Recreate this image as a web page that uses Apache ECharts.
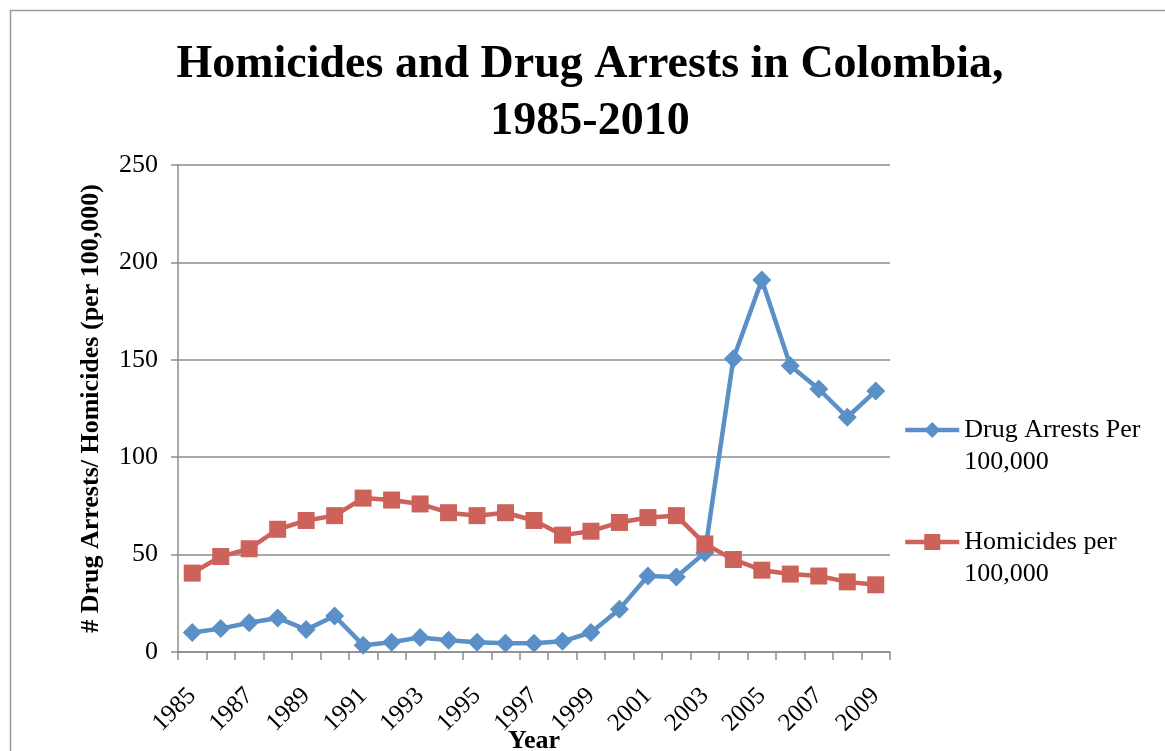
<!DOCTYPE html>
<html>
<head>
<meta charset="utf-8">
<script src="https://cdn.jsdelivr.net/npm/echarts@6/dist/echarts.min.js"></script>
<style>
html,body{margin:0;padding:0;background:#fff;}
#chart{width:1165px;height:751px;}
</style>
</head>
<body>
<div id="chart"></div>
<script>
const years = ['1985','1986','1987','1988','1989','1990','1991','1992','1993','1994','1995','1996','1997','1998','1999','2000','2001','2002','2003','2004','2005','2006','2007','2008','2009'];
const drugArrests = [10,12,15,17.5,11.5,18.5,3.5,5,7.5,6,5,4.5,4.5,5.5,10,22,39,38.5,51,150.5,191,147,135,120.5,134];
const homicides = [40.5,49,53,63,67.5,70,79,78,76,71.5,70,71.5,67.5,60,62,66.5,69,70,55.5,47.5,42,40,39,36,34.5];
const yTicks = [0,50,100,150,200,250];

const serif = '"Liberation Serif", "Times New Roman", serif';
const blue = '#5B8FC8';
const red = '#CC625A';

const chart = echarts.init(document.getElementById('chart'));
chart.setOption({
  backgroundColor: '#fff',
  animation: false,
  title: {
    text: 'Homicides and Drug Arrests in Colombia,\n1985-2010',
    left: 585, top: 32, textAlign: 'center',
    textStyle: {fontFamily: serif, fontWeight: 'bold', fontSize: 46, lineHeight: 57, color: '#000'}
  },
  graphic: [{
    type: 'rect', shape: {x: 10.5, y: 10.5, width: 1300, height: 900},
    style: {fill: 'none', stroke: '#9a9a9a', lineWidth: 1.5}, silent: true
  }],
  legend: {
    orient: 'vertical', left: 903, top: 382, padding: 0,
    itemWidth: 54, itemHeight: 20, itemGap: 16,
    lineStyle: {width: 4.5},
    formatter: name => ' \n' + name,
    textStyle: {fontFamily: serif, fontSize: 26, lineHeight: 32, color: '#000'},
    data: [
      {name: 'Drug Arrests Per\n100,000'},
      {name: 'Homicides per\n100,000'}
    ]
  },
  grid: {left: 178, right: 275, top: 165, bottom: 99, containLabel: false, outerBoundsMode: 'none'},
  xAxis: {
    type: 'category', data: years, boundaryGap: true,
    name: 'Year', nameLocation: 'middle', nameGap: 76, nameMoveOverlap: false,
    nameTextStyle: {fontFamily: serif, fontWeight: 'bold', fontSize: 26, color: '#000'},
    axisLine: {lineStyle: {color: '#8c8c8c', width: 1.5}},
    axisTick: {show: true, length: 8, alignWithLabel: false, interval: 0, lineStyle: {color: '#8c8c8c', width: 1.5}},
    axisLabel: {interval: 1, rotate: 45, margin: 40, fontFamily: serif, fontSize: 25, color: '#000'},
    splitLine: {show: false}
  },
  yAxis: {
    type: 'value', min: 0, max: 250, interval: 50,
    name: '# Drug Arrests/ Homicides (per 100,000)', nameLocation: 'middle', nameGap: 74,
    nameTextStyle: {fontFamily: serif, fontWeight: 'bold', fontSize: 26, color: '#000'},
    axisLine: {show: true, lineStyle: {color: '#8c8c8c', width: 1.5}},
    axisTick: {show: true, length: 7, lineStyle: {color: '#8c8c8c', width: 1.5}},
    axisLabel: {margin: 20, fontFamily: serif, fontSize: 26, color: '#000',
      formatter: v => yTicks.includes(v) ? String(v) : ''},
    splitLine: {show: true, lineStyle: {color: '#8c8c8c', width: 1.5}}
  },
  series: [
    {
      name: 'Drug Arrests Per\n100,000', type: 'line', data: drugArrests,
      symbol: 'diamond', symbolSize: 19, showAllSymbol: true,
      lineStyle: {color: blue, width: 4.5}, itemStyle: {color: blue},
      z: 2
    },
    {
      name: 'Homicides per\n100,000', type: 'line', data: homicides,
      symbol: 'rect', symbolSize: 17, showAllSymbol: true,
      lineStyle: {color: red, width: 4.5}, itemStyle: {color: red},
      z: 3
    }
  ]
});
</script>
</body>
</html>
